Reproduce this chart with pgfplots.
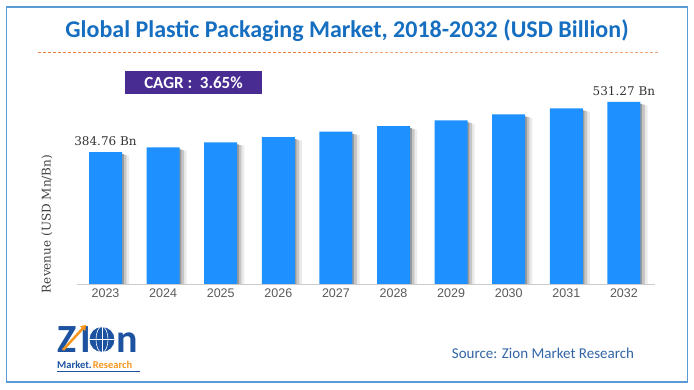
\documentclass[border=0pt]{standalone}
\usepackage{pgfplots}
\usepackage{pgfplotstable}
\pgfplotsset{compat=1.18}
\usepackage{fontspec}
\setmainfont{Carlito}
\newfontfamily\arialf{Liberation Sans}
\newfontfamily\serif{DejaVu Serif}
\usetikzlibrary{arrows.meta}
\definecolor{barblue}{RGB}{30,144,255}
\definecolor{titleblue}{RGB}{22,110,192}
\definecolor{framblue}{RGB}{91,155,213}
\definecolor{cagr}{RGB}{72,44,145}
\definecolor{dashor}{RGB}{240,125,60}
\definecolor{srcblue}{RGB}{50,100,165}
\definecolor{tickgray}{RGB}{89,89,89}
\definecolor{zblue}{RGB}{28,82,160}
\definecolor{zorange}{RGB}{245,150,30}
\pgfplotstableread{
idx val
0 384.76
1 398.80
2 413.36
3 428.45
4 444.09
5 460.30
6 477.10
7 494.51
8 512.56
9 531.27
}\revtable
\begin{document}
\begin{tikzpicture}[x=1pt,y=1pt]
\path[use as bounding box] (0,0) rectangle (694,390);
\draw[framblue, line width=1.2pt] (6.5,8) rectangle (687.5,383);
% title
\node[anchor=base, text=titleblue, font=\fontsize{24}{26}\selectfont\bfseries] at (347,352) {Global Plastic Packaging Market, 2018-2032 (USD Billion)};
\draw[dashor, line width=1pt, dash pattern=on 3pt off 2pt] (38,337) -- (350,337);
\draw[dashor!70, line width=1pt, dash pattern=on 3pt off 2pt] (350,337) -- (659,337);
% CAGR box
\fill[cagr] (125,296) rectangle (262,319);
\node[text=white, font=\fontsize{17}{19}\selectfont\bfseries] at (193.5,307.5) {CAGR :\ \ 3.65\%};
% axis
\begin{axis}[
  at={(77pt,106pt)}, anchor=south west,
  scale only axis, width=578pt, height=200pt,
  xmin=-0.495, xmax=9.54, ymin=0, ymax=583.4,
  axis x line*=bottom, axis y line=none,
  axis line style={draw=black!20, line width=0.8pt, -},
  xtick=data,
  xticklabels={2023,2024,2025,2026,2027,2028,2029,2030,2031,2032},
  xticklabel style={font=\arialf\fontsize{12.5}{14}\selectfont, text=tickgray, yshift=-1pt},
  major tick length=0pt,
  ytick=\empty,
  clip=false,
]
\addplot[ybar, bar width=2.6pt, bar shift=22.3pt, draw=none, fill=black!8] table[x=idx, y expr=\thisrow{val}-10] {\revtable};
\addplot[ybar, bar width=2.6pt, bar shift=19.7pt, draw=none, fill=black!22] table[x=idx, y expr=\thisrow{val}-8] {\revtable};
\addplot[ybar, bar width=2.6pt, bar shift=17.1pt, draw=none, fill=black!40] table[x=idx, y expr=\thisrow{val}-6] {\revtable};
\addplot[ybar, bar width=33pt, bar shift=0pt, draw=none, fill=barblue] table[x=idx, y=val] {\revtable};
\node[anchor=south, font=\serif\fontsize{12}{14}\selectfont, text=black!80] at (axis cs:0,384.76) [yshift=3pt] {384.76 Bn};
\node[anchor=south, font=\serif\fontsize{12}{14}\selectfont, text=black!80] at (axis cs:9,531.27) [yshift=3pt] {531.27 Bn};
\end{axis}
\node[rotate=90, font=\serif\fontsize{12}{14}\selectfont, text=black!75] at (47,166) {Revenue (USD Mn/Bn)};
% source
\node[text=srcblue, font=\fontsize{15}{17}\selectfont] at (543,37) {Source: Zion Market Research};
% logo
\node[anchor=base west, inner sep=0, text depth=0pt, text=zblue, font=\fontsize{40}{40}\selectfont\bfseries] at (57,37) {Z};
\node[anchor=base west, inner sep=0, text depth=0pt, text=zblue, font=\fontsize{40}{40}\selectfont\bfseries] at (80,37) {I};
\fill[zblue] (102,50.5) circle (13);
\draw[white, line width=0.8pt] (102,50.5) circle (13);
\draw[white, line width=0.6pt] (102,37.5) -- (102,63.5) (89,50.5) -- (115,50.5);
\draw[white, line width=0.6pt] (102,50.5) ellipse (6 and 13);
\node[anchor=base west, inner sep=0, text depth=0pt, text=zblue, font=\fontsize{40}{40}\selectfont\bfseries] at (116.5,37) {n};
\draw[zorange, line width=2.5pt, -{Triangle[length=5pt,width=7pt]}] (63,40) -- (86,65);
\node[anchor=base west, inner sep=0, text height=7pt, text=zblue, font=\fontsize{10.5}{12}\selectfont\bfseries] (mk) at (57,21) {Market.};
\node[anchor=base west, inner sep=0, text height=7pt, text=zorange, font=\fontsize{10.5}{12}\selectfont\bfseries] at ([xshift=0.8pt]mk.base east) {Research};
\draw[zblue, line width=0.5pt] (57,19) -- (140,19);
\end{tikzpicture}
\end{document}
